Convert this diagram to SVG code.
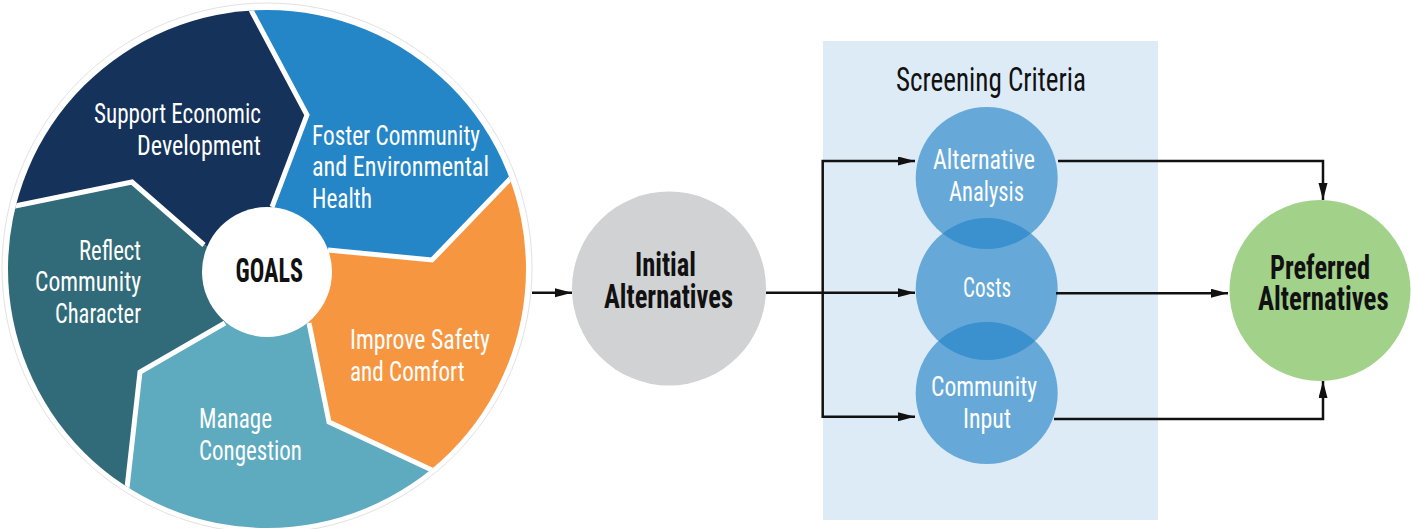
<svg xmlns="http://www.w3.org/2000/svg" width="1411" height="529" viewBox="0 0 1411 529">
  <defs>
    <style>
      .lbl { font-family: "Liberation Sans Narrow", "Roboto Condensed", "Liberation Sans", sans-serif; fill: #ffffff; font-size: 28px; }
      .big { font-family: "Liberation Sans Narrow", "Roboto Condensed", "Liberation Sans", sans-serif; fill: #111111; font-size: 33px; font-weight: bold; }
      .title { font-family: "Liberation Sans Narrow", "Roboto Condensed", "Liberation Sans", sans-serif; fill: #111111; font-size: 33px; }
      .conn { fill: none; stroke: #111111; stroke-width: 2.5; }
      .div { fill: none; stroke: #ffffff; stroke-width: 5; stroke-linejoin: miter; }
    </style>
    <clipPath id="disk">
      <circle cx="267" cy="269" r="259"/>
    </clipPath>
    <marker id="arr" markerUnits="userSpaceOnUse" markerWidth="18" markerHeight="10" refX="17" refY="4.5" orient="auto">
      <path d="M0,0 L17,4.5 L0,9 Z" fill="#111111"/>
    </marker>
  </defs>

  <rect x="0" y="0" width="1411" height="529" fill="#ffffff"/>

  <!-- Goals wheel -->
  <g id="goals-wheel">
    <circle cx="267" cy="268" r="265" fill="none" stroke="#e2e2e2" stroke-width="1"/>
    <g clip-path="url(#disk)">
      <polygon id="seg-support" fill="#15325a" points="267,270 204,245 132,182 15,206 -20,213 -20,-15 242,-15 252,12 307,115 272,207"/>
      <polygon id="seg-foster" fill="#2485c7" points="267,270 272,207 307,115 252,12 242,-15 600,-15 560,127 510,179 432,260 328,250"/>
      <polygon id="seg-safety" fill="#f79641" points="267,270 328,250 432,260 510,179 560,127 620,127 620,560 540,520 434,471 329,422 309,323"/>
      <polygon id="seg-congestion" fill="#5eaabf" points="267,270 309,323 329,422 434,471 540,520 540,545 122,545 127,488 140,372 225,323"/>
      <polygon id="seg-character" fill="#316b79" points="267,270 225,323 140,372 127,488 122,545 -20,545 -20,213 15,206 132,182 204,245"/>
      <polyline class="div" points="272,207 307,115 252,12 242,-15"/>
      <polyline class="div" points="328,250 432,260 510,179 560,127"/>
      <polyline class="div" points="309,323 329,422 434,471 540,520"/>
      <polyline class="div" points="225,323 140,372 127,488 122,545"/>
      <polyline class="div" points="204,245 132,182 15,206 -20,213"/>
    </g>
    <circle cx="267" cy="272" r="65" fill="#ffffff"/>
  </g>

  <g id="goal-support">
    <text class="lbl" x="94" y="123" textLength="167" lengthAdjust="spacingAndGlyphs">Support Economic</text>
    <text class="lbl" x="137" y="155" textLength="124" lengthAdjust="spacingAndGlyphs">Development</text>
  </g>
  <g id="goal-foster">
    <text class="lbl" x="312" y="145" textLength="168" lengthAdjust="spacingAndGlyphs">Foster Community</text>
    <text class="lbl" x="312" y="176" textLength="177" lengthAdjust="spacingAndGlyphs">and Environmental</text>
    <text class="lbl" x="312" y="208" textLength="60" lengthAdjust="spacingAndGlyphs">Health</text>
  </g>
  <g id="goal-character">
    <text class="lbl" x="79" y="259.5" textLength="62" lengthAdjust="spacingAndGlyphs">Reflect</text>
    <text class="lbl" x="35" y="291" textLength="106" lengthAdjust="spacingAndGlyphs">Community</text>
    <text class="lbl" x="55" y="323" textLength="86" lengthAdjust="spacingAndGlyphs">Character</text>
  </g>
  <g id="goal-safety">
    <text class="lbl" x="350" y="349" textLength="140" lengthAdjust="spacingAndGlyphs">Improve Safety</text>
    <text class="lbl" x="350" y="381" textLength="114.5" lengthAdjust="spacingAndGlyphs">and Comfort</text>
  </g>
  <g id="goal-congestion">
    <text class="lbl" x="199" y="428" textLength="73" lengthAdjust="spacingAndGlyphs">Manage</text>
    <text class="lbl" x="199" y="460" textLength="103" lengthAdjust="spacingAndGlyphs">Congestion</text>
  </g>
  <g id="goals-center">
    <text class="big" x="235.5" y="282" textLength="67.5" lengthAdjust="spacingAndGlyphs">GOALS</text>
  </g>

  <!-- Screening criteria panel -->
  <g id="screening-criteria">
    <rect x="823" y="41" width="335" height="479" fill="#ddebf7"/>
    <text class="title" x="896" y="91" textLength="190" lengthAdjust="spacingAndGlyphs">Screening Criteria</text>
  </g>

  <g id="initial-alternatives">
    <circle cx="669" cy="288.5" r="97" fill="#d1d2d4"/>
    <text class="big" x="635" y="276" textLength="61" lengthAdjust="spacingAndGlyphs">Initial</text>
    <text class="big" x="604" y="308" textLength="129" lengthAdjust="spacingAndGlyphs">Alternatives</text>
  </g>

  <g id="alternative-analysis">
    <circle cx="986.7" cy="178" r="71" fill="#2283c8" fill-opacity="0.64"/>
    <text class="lbl" x="933" y="169" textLength="102" lengthAdjust="spacingAndGlyphs">Alternative</text>
    <text class="lbl" x="949" y="201" textLength="75" lengthAdjust="spacingAndGlyphs">Analysis</text>
  </g>
  <g id="costs">
    <circle cx="986.7" cy="289" r="71" fill="#2283c8" fill-opacity="0.64"/>
    <text class="lbl" x="963" y="297" textLength="48" lengthAdjust="spacingAndGlyphs">Costs</text>
  </g>
  <g id="community-input">
    <circle cx="986.7" cy="393" r="71" fill="#2283c8" fill-opacity="0.64"/>
    <text class="lbl" x="931" y="396" textLength="106" lengthAdjust="spacingAndGlyphs">Community</text>
    <text class="lbl" x="963" y="428" textLength="48" lengthAdjust="spacingAndGlyphs">Input</text>
  </g>

  <g id="preferred-alternatives">
    <circle cx="1320" cy="290.5" r="90.5" fill="#a2d28a"/>
    <text class="big" x="1270" y="278.5" textLength="100" lengthAdjust="spacingAndGlyphs">Preferred</text>
    <text class="big" x="1258" y="310" textLength="130.6" lengthAdjust="spacingAndGlyphs">Alternatives</text>
  </g>

  <!-- Connectors -->
  <g id="connectors">
    <path class="conn" d="M532,292.7 H572" marker-end="url(#arr)"/>
    <path class="conn" d="M766,292.7 H915" marker-end="url(#arr)"/>
    <path class="conn" d="M822.7,292.7 V161 H915" marker-end="url(#arr)"/>
    <path class="conn" d="M822.7,292.7 V416.7 H915" marker-end="url(#arr)"/>
    <path class="conn" d="M1058,161 H1323 V200" marker-end="url(#arr)"/>
    <path class="conn" d="M1056,293.3 H1228" marker-end="url(#arr)"/>
    <path class="conn" d="M1054,419 H1323 V381" marker-end="url(#arr)"/>
  </g>
</svg>
